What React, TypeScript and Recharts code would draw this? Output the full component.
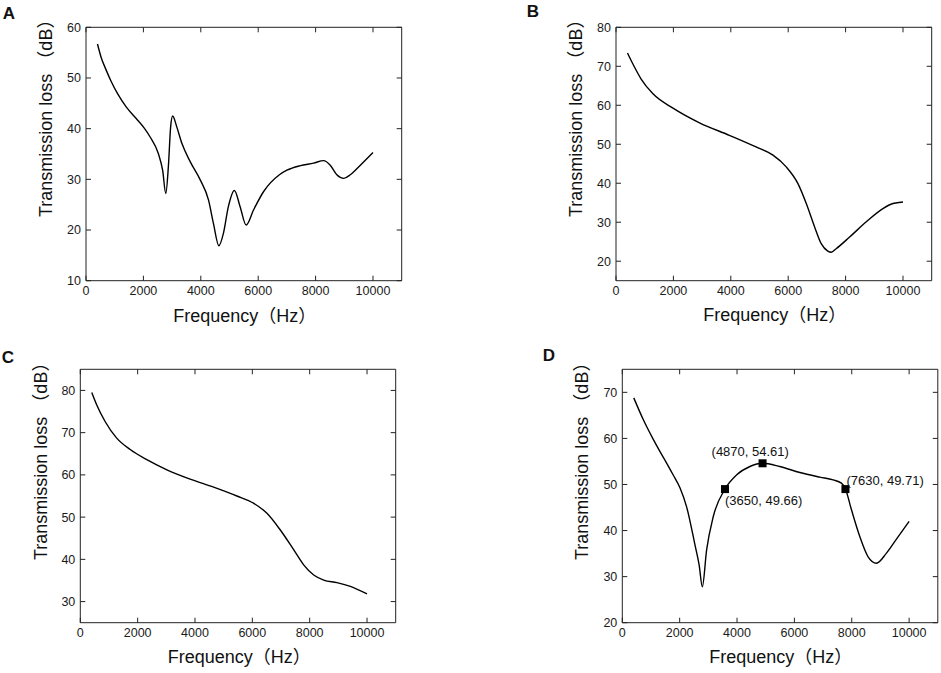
import React from 'react'
import { ComposedChart, Line, Scatter, XAxis, YAxis } from 'recharts'

const FONT = '"Liberation Sans", Arial, "Noto Sans CJK SC", sans-serif'
const AXIS = '#222'

const xTicks = [0, 2000, 4000, 6000, 8000, 10000]

// A
const freqA = [400, 520, 700, 870, 1100, 1400, 1750, 2030, 2230, 2520, 2670, 2780, 2870, 2950, 3020, 3160, 3340, 3630, 3980, 4270, 4440, 4630, 4790, 4960, 5170, 5370, 5580, 5840, 6190, 6740, 7000, 7470, 7930, 8280, 8510, 8740, 8980, 9210, 9560, 10000]
const tlA = [56.7, 54.2, 51.6, 49.4, 46.9, 44.3, 42.0, 40.1, 38.4, 35.1, 31.8, 27.2, 32.5, 40.4, 42.5, 40.4, 37.1, 33.5, 29.9, 25.9, 21.3, 16.9, 19.4, 24.6, 27.8, 24.6, 21.0, 24.0, 27.6, 30.9, 31.8, 32.7, 33.2, 33.7, 32.8, 30.9, 30.2, 30.9, 32.8, 35.3]
const yTicksA = [10, 20, 30, 40, 50, 60]

// B
const freqB = [400, 580, 870, 1280, 2000, 2910, 3950, 4880, 5470, 5930, 6340, 6630, 6920, 7150, 7380, 7500, 7670, 8140, 8720, 9300, 9650, 10000]
const tlB = [73.4, 70.7, 66.8, 63.0, 59.2, 55.5, 52.3, 49.3, 47.2, 44.2, 39.9, 34.8, 28.8, 24.5, 22.6, 22.3, 23.2, 26.2, 30.1, 33.5, 34.8, 35.2]
const yTicksB = [20, 30, 40, 50, 60, 70, 80]

// C
const freqC = [400, 570, 860, 1270, 1740, 2320, 3020, 3830, 4650, 5460, 6040, 6510, 6970, 7440, 7790, 8140, 8490, 8950, 9420, 10000]
const tlC = [79.5, 76.6, 72.7, 68.7, 66.0, 63.6, 61.2, 59.0, 57.1, 55.0, 53.3, 50.9, 47.0, 42.3, 38.7, 36.3, 35.1, 34.5, 33.6, 31.8]
const yTicksC = [30, 40, 50, 60, 70, 80]

// D
const freqD = [400, 730, 1080, 1310, 1550, 1780, 2010, 2240, 2530, 2680, 2790, 2940, 3170, 3580, 3990, 4450, 4890, 5490, 6190, 6890, 7350, 7640, 7780, 7990, 8280, 8570, 8860, 9210, 9620, 10000]
const tlD = [68.8, 64.1, 59.8, 57.2, 54.6, 52.0, 49.3, 45.2, 37.0, 32.5, 27.8, 35.8, 43.0, 49.0, 52.1, 53.9, 54.6, 53.9, 52.6, 51.6, 51.0, 50.3, 49.0, 44.5, 38.7, 34.3, 32.9, 35.1, 38.7, 42.0]
const yTicksD = [20, 30, 40, 50, 60, 70]

const markerF = [3580, 4890, 7780]
const markerTL = [49.0, 54.6, 49.0]
const markerText = ['(3650, 49.66)', '(4870, 54.61)', '(7630, 49.71)']
const labelOffsets = [
  { dx: 0, dy: 16 },
  { dx: -51, dy: -7 },
  { dx: 1, dy: -4 },
]

const toRows = (f: number[], tl: number[]) => f.map((v, i) => ({ f: v, tl: tl[i] }))
const markerRows = markerF.map((f, i) => ({ f, tl: markerTL[i], label: markerText[i], i }))

const HiddenTick = () => <g />

const MarkerShape = (props: any) => {
  const { cx, cy, payload } = props
  const off = labelOffsets[payload.i]
  return (
    <g>
      <rect x={cx - 4} y={cy - 4} width={8} height={8} fill="#000" />
      <text x={cx + off.dx} y={cy + off.dy} fontSize={13} fontFamily={FONT} fill="#111">
        {payload.label}
      </text>
    </g>
  )
}

interface PanelProps {
  left: number
  top: number
  width: number
  height: number
  margin: { top: number; right: number; bottom: number; left: number }
  data: { f: number; tl: number }[]
  yDomain: [number, number]
  yTicks: number[]
  children?: React.ReactNode
}

function Panel({ left, top, width, height, margin, data, yDomain, yTicks, children }: PanelProps) {
  const tickStyle = { fill: '#1a1a1a', fontSize: 12.5, fontFamily: FONT }
  // top/right axes are 1px wide, so pull the margins in by 1
  const m = { ...margin, top: margin.top - 1, right: margin.right - 1 }
  return (
    <div style={{ position: 'absolute', left, top }}>
      <ComposedChart width={width} height={height} data={data} margin={m}>
        <XAxis xAxisId="b" type="number" dataKey="f" domain={[0, 11000]} ticks={xTicks} interval={0}
          allowDataOverflow height={30} tickSize={-5} tickMargin={10} stroke={AXIS} tick={tickStyle} />
        <XAxis xAxisId="t" orientation="top" type="number" dataKey="f" domain={[0, 11000]} ticks={xTicks}
          interval={0} allowDataOverflow height={1} tickSize={-5} tick={HiddenTick} stroke={AXIS} />
        <YAxis yAxisId="l" type="number" domain={yDomain} ticks={yTicks} interval={0} allowDataOverflow
          width={50} tickSize={-5} tickMargin={10} stroke={AXIS} tick={tickStyle} />
        <YAxis yAxisId="r" orientation="right" type="number" domain={yDomain} ticks={yTicks} interval={0}
          allowDataOverflow width={1} tickSize={-5} tick={HiddenTick} stroke={AXIS} />
        <Line xAxisId="t" yAxisId="r" dataKey="tl" stroke="none" dot={false} activeDot={false}
          legendType="none" isAnimationActive={false} />
        <Line xAxisId="b" yAxisId="l" type="monotone" dataKey="tl" stroke="#000" strokeWidth={1.4}
          dot={false} activeDot={false} isAnimationActive={false} />
        {children}
      </ComposedChart>
    </div>
  )
}

const yTitle = 'Transmission loss （dB）'
const xTitle = 'Frequency（Hz）'

export default function App() {
  return (
    <div style={{ position: 'absolute', left: 0, top: 0, width: 941, height: 673, background: '#fff', overflow: 'hidden' }}>
      <Panel left={0} top={0} width={470} height={330}
        margin={{ top: 27.3, right: 68.3, bottom: 19.3, left: 36 }}
        data={toRows(freqA, tlA)} yDomain={[10, 60]} yTicks={yTicksA} />
      <Panel left={470} top={0} width={470} height={330}
        margin={{ top: 27.3, right: 8.3, bottom: 19.3, left: 96 }}
        data={toRows(freqB, tlB)} yDomain={[15, 80]} yTicks={yTicksB} />
      <Panel left={0} top={330} width={470} height={343}
        margin={{ top: 39.3, right: 74.3, bottom: 20.3, left: 30.3 }}
        data={toRows(freqC, tlC)} yDomain={[25, 85]} yTicks={yTicksC} />
      <Panel left={470} top={330} width={471} height={343}
        margin={{ top: 39.3, right: 3.2, bottom: 20.3, left: 102.3 }}
        data={toRows(freqD, tlD)} yDomain={[20, 75]} yTicks={yTicksD}>
        <Scatter xAxisId="b" yAxisId="l" data={markerRows} dataKey="tl" shape={MarkerShape} isAnimationActive={false} />
      </Panel>

      <svg width={941} height={673} style={{ position: 'absolute', left: 0, top: 0, pointerEvents: 'none' }}
        fontFamily={FONT} fill="#111">
        <g fontWeight="bold" fontSize={17}>
          <text x={2.7} y={19.3}>A</text>
          <text x={526.7} y={17.3}>B</text>
          <text x={1.7} y={363.3}>C</text>
          <text x={542.7} y={360.7}>D</text>
        </g>
        <g fontSize={18}>
          <text transform="translate(51.7,217) rotate(-90)">{yTitle}</text>
          <text transform="translate(581.7,217) rotate(-90)">{yTitle}</text>
          <text transform="translate(46.7,560) rotate(-90)">{yTitle}</text>
          <text transform="translate(588.3,560) rotate(-90)">{yTitle}</text>
        </g>
        <g fontSize={18}>
          <text x={173.3} y={321.7}>{xTitle}</text>
          <text x={703.3} y={321}>{xTitle}</text>
          <text x={167.7} y={663.3}>{xTitle}</text>
          <text x={709.3} y={663.3}>{xTitle}</text>
        </g>
      </svg>
    </div>
  )
}
